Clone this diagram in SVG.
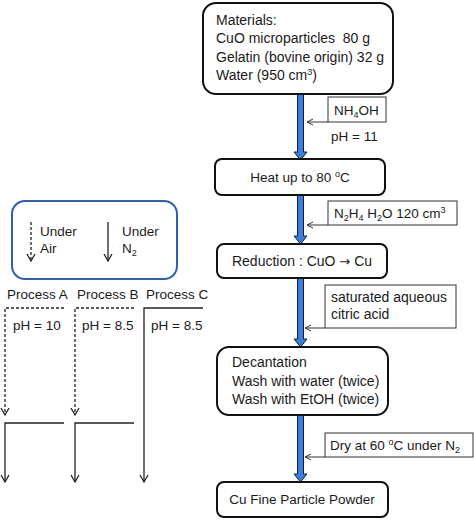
<svg xmlns="http://www.w3.org/2000/svg" width="474" height="520" viewBox="0 0 474 520">
<defs>
<style>
text{font-family:"Liberation Sans",Arial,sans-serif;font-size:13.5px;fill:#1a1a1a}
.lg{font-size:14px}
.box{fill:#fff;stroke:#111;stroke-width:2}
.add{fill:#fff;stroke:#333;stroke-width:1}
.thin{fill:none;stroke:#333;stroke-width:1}
.big{fill:#3b7dd8;stroke:#0d1f3c;stroke-width:1}
.ln{fill:none;stroke:#222;stroke-width:1.3}
.dash{stroke-dasharray:3 2}
</style>
<marker id="open" markerWidth="8" markerHeight="8" refX="7" refY="4" orient="auto" markerUnits="userSpaceOnUse">
<path d="M1,1 L7,4 L1,7" fill="none" stroke="#333" stroke-width="1"/>
</marker>
<marker id="dn" markerWidth="10" markerHeight="10" refX="8" refY="5" orient="auto" markerUnits="userSpaceOnUse">
<path d="M1,1 L8,5 L1,9" fill="none" stroke="#222" stroke-width="1.3"/>
</marker>
</defs>
<rect width="474" height="520" fill="#fff"/>

<g id="connectors">
<path class="big" d="M297.5,94 H303.5 V152 H307 L300.5,160 L294,152 H297.5 Z"/>
<path class="big" d="M297.5,195 H303.5 V236 H307 L300.5,244 L294,236 H297.5 Z"/>
<path class="big" d="M297.5,278 H303.5 V339 H307 L300.5,347 L294,339 H297.5 Z"/>
<path class="big" d="M297.5,415 H303.5 V474 H307 L300.5,482 L294,474 H297.5 Z"/>
<line class="thin" x1="328" y1="122" x2="307" y2="122" marker-end="url(#open)"/>
<line class="thin" x1="328" y1="225" x2="307" y2="225" marker-end="url(#open)"/>
<line class="thin" x1="325" y1="328" x2="305" y2="328" marker-end="url(#open)"/>
<line class="thin" x1="325" y1="457" x2="305" y2="457" marker-end="url(#open)"/>
</g>

<g id="materials">
<rect class="box" x="203" y="3" width="190" height="91" rx="13"/>
<text class="lg" x="216" y="25">Materials:</text>
<text class="lg" x="216" y="43">CuO microparticles&#160; 80 g</text>
<text class="lg" x="216" y="62">Gelatin (bovine origin) 32 g</text>
<text class="lg" x="216" y="80">Water (950 cm<tspan font-size="9" dy="-5">3</tspan><tspan dy="5">)</tspan></text>
</g>

<g id="nh4oh">
<rect class="add" x="328" y="97" width="58" height="25"/>
<text x="334" y="115">NH<tspan font-size="9" dy="3">4</tspan><tspan dy="-3">OH</tspan></text>
<text x="331" y="141">pH = 11</text>
</g>

<g id="heat">
<rect class="box" x="215" y="159" width="170" height="36" rx="7"/>
<text x="300" y="182" text-anchor="middle">Heat up to 80 <tspan font-size="9" dy="-5">o</tspan><tspan dy="5">C</tspan></text>
</g>

<g id="n2h4">
<rect class="add" x="328" y="201" width="129" height="24"/>
<text x="334" y="218">N<tspan font-size="9" dy="3">2</tspan><tspan dy="-3">H</tspan><tspan font-size="9" dy="3">4</tspan><tspan dy="-3"> H</tspan><tspan font-size="9" dy="3">2</tspan><tspan dy="-3">O 120 cm</tspan><tspan font-size="9" dy="-5">3</tspan></text>
</g>

<g id="reduction">
<rect class="box" x="217" y="244" width="170" height="34" rx="7"/>
<text class="lg" x="302" y="266" text-anchor="middle">Reduction : CuO <tspan font-family="DejaVu Sans" font-size="13">→</tspan> Cu</text>
</g>

<g id="citric">
<rect class="add" x="325" y="285" width="131" height="43"/>
<text class="lg" x="331" y="302">saturated aqueous</text>
<text class="lg" x="331" y="319">citric acid</text>
</g>

<g id="decantation">
<rect class="box" x="217" y="347" width="171" height="68" rx="12"/>
<text class="lg" x="232" y="367">Decantation</text>
<text class="lg" x="232" y="386">Wash with water (twice)</text>
<text class="lg" x="232" y="404">Wash with EtOH (twice)</text>
</g>

<g id="dry">
<rect class="add" x="325" y="433" width="148" height="24"/>
<text x="330" y="450">Dry at 60 <tspan font-size="9" dy="-5">o</tspan><tspan dy="5">C under N</tspan><tspan font-size="9" dy="3">2</tspan></text>
</g>

<g id="powder">
<rect class="box" x="217" y="482" width="171" height="35" rx="7"/>
<text x="302" y="504" text-anchor="middle">Cu Fine Particle Powder</text>
</g>

<g id="legend">
<rect x="12" y="201" width="165" height="78" rx="13" fill="#fff" stroke="#2f5fb3" stroke-width="2"/>
<line class="ln dash" x1="31" y1="222" x2="31" y2="261" marker-end="url(#dn)"/>
<line class="ln" x1="108" y1="222" x2="108" y2="261" marker-end="url(#dn)"/>
<text x="40" y="236">Under</text>
<text x="40" y="253">Air</text>
<text x="122" y="236">Under</text>
<text x="122" y="253">N<tspan font-size="9" dy="3">2</tspan></text>
</g>

<g id="processes">
<text x="7" y="299">Process A</text>
<text x="77" y="299">Process B</text>
<text x="146" y="299">Process C</text>
<text x="13" y="330">pH = 10</text>
<text x="82" y="330">pH = 8.5</text>
<text x="151" y="330">pH = 8.5</text>
<path class="ln dash" d="M64,308 H5 V415" marker-end="url(#dn)"/>
<path class="ln dash" d="M134,308 H75 V415" marker-end="url(#dn)"/>
<path class="ln" d="M203,308 H144 V482" marker-end="url(#dn)"/>
<path class="ln" d="M64,423 H5 V482" marker-end="url(#dn)"/>
<path class="ln" d="M134,423 H75 V482" marker-end="url(#dn)"/>
</g>
</svg>
